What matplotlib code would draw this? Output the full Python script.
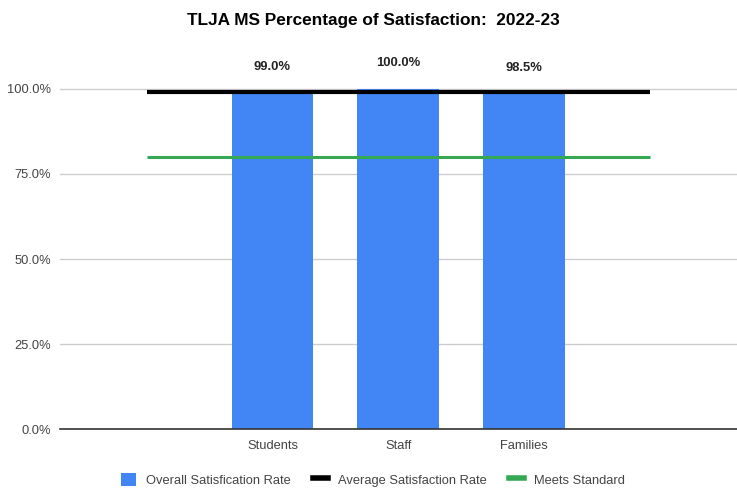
import matplotlib
matplotlib.use("Agg")
import matplotlib.pyplot as plt
from matplotlib.patches import Patch
from matplotlib.lines import Line2D

plt.rcParams['font.family'] = ['Liberation Sans', 'DejaVu Sans']

categories = ["Students", "Staff", "Families"]
overall = [99.0, 100.0, 98.5]
average_rate = 99.17
meets_standard = 80.0
y_ticks = [0, 25, 50, 75, 100]

fig = plt.figure(figsize=(7.37, 4.9), dpi=100)
ax = fig.add_axes([0.081, 0.124, 0.919, 0.778])

x = list(range(len(categories)))
bar_color = "#4285F4"
ax.bar(x, overall, width=0.65, color=bar_color, zorder=2)

for xi, v in zip(x, overall):
    ax.annotate(f"{v:.1f}%", (xi, v), xytext=(0, 18.5), textcoords="offset points",
                ha="center", va="center", fontsize=9.4, fontweight="bold", color="#222222")

x_line = [-1, len(categories)]
ax.plot(x_line, [average_rate] * 2, color="black", lw=3, zorder=3, solid_capstyle="butt")
ax.plot(x_line, [meets_standard] * 2, color="#34A853", lw=2.2, zorder=3, solid_capstyle="butt")

ax.set_xlim(-1.69, 3.69)
ax.set_ylim(0, 112)
ax.set_yticks(y_ticks)
ax.set_yticklabels([f"{t:.1f}%" for t in y_ticks])
ax.set_xticks(x)
ax.set_xticklabels(categories)
ax.tick_params(axis="both", length=0, labelsize=9.3, colors="#444444")
ax.tick_params(axis="x", pad=8)
ax.tick_params(axis="y", pad=6)
ax.yaxis.grid(True, color="#CCCCCC", lw=1, zorder=0)
ax.set_axisbelow(True)
for s in ["top", "right", "left"]:
    ax.spines[s].set_visible(False)
ax.spines["bottom"].set_color("#333333")
ax.spines["bottom"].set_linewidth(1.2)
ax.spines["bottom"].set_zorder(4)

fig.text(0.5065, 0.958, "TLJA MS Percentage of Satisfaction:  2022-23", ha="center", va="center",
         fontsize=12.4, fontweight="bold", color="#000000")

handles = [Patch(facecolor=bar_color, edgecolor="none"),
           Line2D([], [], color="black", lw=4),
           Line2D([], [], color="#34A853", lw=4)]
labels = ["Overall Satisfication Rate", "Average Satisfaction Rate", "Meets Standard"]
fig.legend(handles, labels, loc="center", bbox_to_anchor=(0.506, 0.021), ncol=3, frameon=False,
           fontsize=9.3, handlelength=1.16, handleheight=1.16, handletextpad=0.78, columnspacing=1.7,
           labelcolor="#444444")

fig.savefig("out.png", dpi=100)
